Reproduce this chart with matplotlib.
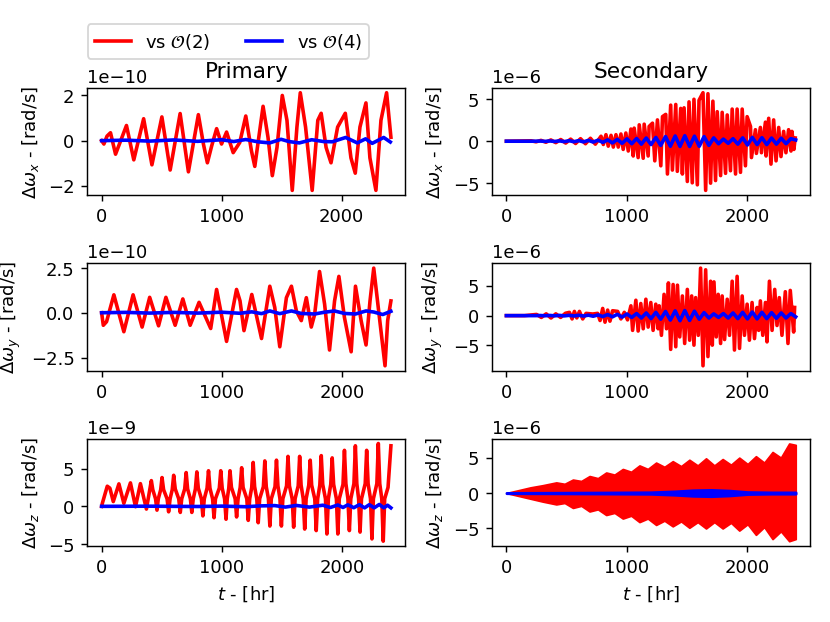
import numpy as np
import matplotlib
matplotlib.use("Agg")
import matplotlib.pyplot as plt

# ---- Primary body ----
t_px = [0, 19, 45, 74, 116, 207, 268, 350, 419, 502, 571, 654, 723, 806, 848, 881, 917, 958, 999, 1041,
        1096, 1151, 1201, 1248, 1276, 1345, 1386, 1422, 1461, 1505, 1544, 1588, 1627, 1655, 1699, 1754,
        1801, 1829, 1870, 1911, 1966, 2030, 2077, 2113, 2152, 2202, 2235, 2285, 2327, 2374, 2410]
o2_px = [0, -0.15, 0.2, 0.35, -0.6, 0.67, -0.85, 0.97, -1.07, 1.05, -1.3, 1.2, -1.38, 1.15, -0.15, -0.98,
         -0.23, 0.53, -0.15, 0.38, -0.53, -0.08, 1.09, -0.45, -1.14, 1.52, 0.15, -1.55, -0.3, 2.0, 0.9,
         -2.2, 0.6, 2.12, 0.6, -2.2, 0.9, 1.21, -0.3, -0.98, 0.6, 1.21, -0.76, -1.44, 0.6, 1.67, -0.76,
         -2.2, 0.9, 2.12, 0.15]
t4_px = [0, 200, 400, 600, 800, 1000, 1100, 1200, 1300, 1400, 1495, 1560, 1647, 1750, 1850, 1922,
         2033, 2130, 2199, 2254, 2350, 2405]
o4_px = [0, 0.02, -0.02, 0.03, -0.03, 0.04, -0.04, 0.05, -0.05, -0.1, 0.06, -0.04, -0.1, 0.04, -0.04,
         -0.05, 0.14, -0.1, 0.08, -0.12, 0.14, -0.06]

t_py = [0, 14, 41, 102, 185, 262, 337, 400, 474, 535, 612, 676, 737, 811, 908, 957, 1040, 1123, 1152,
        1185, 1250, 1331, 1400, 1441, 1483, 1538, 1580, 1621, 1662, 1704, 1745, 1773, 1814, 1856, 1897,
        1939, 1975, 2021, 2077, 2113, 2160, 2201, 2234, 2265, 2306, 2359, 2381, 2408]
o2_py = [0, -0.7, -0.5, 1.0, -1.06, 1.0, -0.8, 0.86, -0.73, 0.86, -0.7, 0.77, -0.7, 0.58, -0.88, 1.3,
         -1.6, 1.3, 0.66, -1.0, 1.02, -1.44, 1.48, 0.3, -1.9, 0.84, 1.48, 0.1, -0.44, 0.84, -0.8, -0.1,
         2.3, 0.48, -2.08, 0.66, 2.03, -0.26, -2.18, 1.48, -0.44, -1.8, 0.66, 2.49, 0.1, -2.96, -0.44, 0.66]
t4_py = [0, 200, 400, 600, 800, 1000, 1150, 1250, 1331, 1400, 1483, 1580, 1662, 1773, 1856, 1939,
         2021, 2113, 2201, 2265, 2340, 2408]
o4_py = [0, 0.02, -0.02, 0.02, -0.02, 0.03, -0.03, 0.05, -0.05, 0.1, -0.05, 0.1, -0.04, -0.07, 0.03,
         0.1, -0.04, -0.07, 0.1, 0.04, -0.1, 0.08]

# z: spikes up/down ...
t_pz = [0, 6, 47, 69, 97, 144, 185, 240, 282, 323, 373, 414, 461, 503, 558, 600, 655, 704, 751, 793,
        843, 890, 936, 992, 1036, 1069, 1124, 1166, 1221, 1262, 1304, 1359, 1401, 1456, 1497, 1552, 1599,
        1649, 1691, 1737, 1787, 1829, 1876, 1920, 1967, 2022, 2063, 2113, 2152, 2207, 2251, 2304, 2345,
        2409]
o2_pz = [0, 0.4, 2.66, 2.4, 0.63, 2.97, 0.4, 3.1, -0.05, 3.0, -0.36, 3.4, -0.5, 3.8, -0.72, 4.1, -0.8,
         4.46, -0.8, 4.55, -1.26, 4.7, -1.5, 4.7, -1.7, 4.7, -1.4, 5.1, -1.85, 5.8, -2.16, 6.0, -2.6, 6.1,
         -2.6, 6.6, -2.75, 6.6, -3.0, 6.1, -3.2, 6.7, -3.65, 6.4, -3.65, 7.4, -3.2, 8.0, -3.4, 7.4, -4.3,
         8.3, -4.6, 8.0]
# ... and the level the curve sits at between spikes
t_pz_mid = [426, 449, 472, 492, 516, 545, 570, 588, 613, 642, 667, 692, 716, 739, 763, 781, 805, 831,
            855, 878, 902, 924, 948, 980, 1004, 1024, 1046, 1059, 1081, 1112, 1136, 1154, 1178, 1209,
            1233, 1250, 1274, 1292, 1316, 1347, 1371, 1389, 1413, 1444, 1468, 1485, 1509, 1540, 1564,
            1587, 1611, 1637, 1661, 1679, 1703, 1725, 1749, 1775, 1799, 1817, 1841, 1864, 1888, 1908,
            1932, 1955, 1979, 2010, 2034, 2051, 2075, 2101, 2125, 2140, 2164, 2195, 2219, 2239, 2263,
            2292, 2316, 2333, 2357, 2385]
o2_pz_mid = [2.2, 1.0, 1.0, 2.2, 2.2, 1.0, 1.0, 2.2, 2.3, 1.0, 1.0, 2.3, 2.3, 1.0, 1.0, 2.3, 2.4, 1.0,
             1.0, 2.4, 2.4, 1.0, 1.0, 2.4, 2.4, 1.0, 1.0, 2.4, 2.5, 1.0, 1.0, 2.5, 2.5, 1.0, 1.0, 2.5,
             2.6, 1.0, 1.0, 2.6, 2.6, 1.0, 1.0, 2.6, 2.7, 1.0, 1.0, 2.7, 2.7, 1.0, 1.0, 2.7, 2.8, 1.0,
             1.0, 2.8, 2.8, 1.0, 1.0, 2.8, 2.9, 1.0, 1.0, 2.9, 2.9, 1.0, 1.0, 2.9, 3.0, 1.0, 1.0, 3.0,
             3.0, 1.0, 1.0, 3.0, 3.0, 1.0, 1.0, 3.0, 3.0, 1.0, 1.0, 2.5]
t4_pz = [0, 400, 800, 1000, 1200, 1320, 1442, 1530, 1621, 1730, 1842, 1905, 1967, 2010, 2050, 2100,
         2146, 2190, 2229, 2270, 2312, 2350, 2381, 2409]
o4_pz = [0, 0.02, -0.02, 0.03, -0.05, 0.06, 0.1, -0.1, 0.12, -0.1, 0.15, -0.15, 0.18, -0.15, 0.2,
         -0.18, 0.22, -0.2, 0.22, -0.2, 0.25, -0.2, 0.15, -0.2]

# ---- Secondary body ----
# x: spike tops and bottoms
t_sx_hi = [0, 205, 287, 369, 451, 533, 615, 697, 785, 826, 868, 909, 950, 991, 1033, 1060, 1102, 1143,
           1184, 1212, 1253, 1295, 1322, 1363, 1405, 1446, 1474, 1515, 1556, 1598, 1631, 1672, 1713,
           1749, 1790, 1832, 1873, 1914, 1956, 1997, 2025, 2066, 2107, 2149, 2176, 2217, 2259, 2300,
           2341, 2369, 2396]
o2_sx_hi = [0, 0.05, 0.1, 0.15, 0.2, 0.25, 0.3, 0.35, 0.59, 0.78, 0.7, 0.78, 0.86, 0.98, 1.45, 1.56,
            1.95, 2.03, 1.76, 2.15, 2.54, 2.93, 3.2, 4.3, 4.38, 3.91, 3.98, 4.69, 5.0, 4.88, 5.78, 5.66,
            4.77, 3.52, 3.44, 3.13, 3.83, 3.83, 3.83, 2.93, 1.76, 1.37, 1.64, 2.27, 2.73, 2.54, 1.64,
            1.17, 1.37, 1.17, 0.39]
t_sx_lo = [246, 328, 410, 492, 574, 656, 738, 804, 845, 887, 928, 969, 1011, 1052, 1093, 1135, 1176,
           1231, 1281, 1336, 1377, 1418, 1460, 1501, 1542, 1584, 1653, 1694, 1735, 1777, 1818, 1859,
           1901, 1942, 1983, 2033, 2074, 2116, 2154, 2195, 2237, 2278, 2319, 2361, 2385]
o2_sx_lo = [-0.07, -0.12, -0.17, -0.22, -0.27, -0.3, -0.35, -0.39, -0.59, -0.7, -0.7, -0.98, -1.17,
            -1.76, -1.95, -2.03, -1.76, -2.34, -2.93, -3.91, -3.44, -3.59, -3.91, -4.8, -4.96, -5.2,
            -5.86, -5.0, -4.69, -4.1, -3.83, -3.52, -3.91, -3.71, -2.93, -1.95, -1.45, -1.37, -1.76,
            -2.73, -2.34, -1.83, -1.37, -1.17, -0.98]
o4_sx = [0, 0, 0, 0, 0, 0, 0, 0.02, -0.02, 0.03, -0.03, 0.04, -0.05, 0.06, -0.06, 0.07, -0.08, 0.1,
         -0.1, 0.12, -0.14, 0.16, -0.2, 0.22, -0.25, 0.28, -0.3, 0.32, -0.35, 0.38, -0.4, 0.45, -0.5,
         0.55, -0.6, 0.62, -0.62, 0.65, -0.62, 0.6, -0.6, 0.55, -0.5, 0.4, -0.3, 0.25, -0.25, 0.3, -0.35,
         0.4, -0.45, 0.45, -0.4, 0.42, -0.4, 0.38, -0.35, 0.35, -0.3, 0.3, 0.15]

# y
t_sy_hi = [0, 150, 250, 330, 410, 490, 523, 564, 606, 661, 716, 757, 799, 840, 881, 923, 978, 1033,
           1074, 1115, 1157, 1198, 1239, 1267, 1308, 1344, 1383, 1419, 1460, 1501, 1537, 1570, 1611,
           1653, 1694, 1722, 1757, 1790, 1832, 1873, 1914, 1956, 1997, 2038, 2080, 2107, 2149, 2182,
           2226, 2264, 2314, 2355, 2391]
o2_sy_hi = [0, 0, 0.2, 0.3, 0.3, 0.4, 0.55, 0.71, 0.71, 0.38, 0.27, 0.38, 1.21, 0.93, 0.82, 0.71,
            0.55, 1.65, 2.58, 2.03, 2.75, 2.2, 1.92, 1.65, 3.57, 5.49, 5.22, 5.11, 3.3, 4.4, 3.3, 3.02,
            7.97, 7.69, 5.77, 5.66, 3.57, 3.3, 2.75, 5.77, 6.59, 3.3, 1.92, 2.2, 1.37, 2.47, 2.2, 5.77,
            4.4, 3.02, 4.01, 4.23, 1.37]
t_sy_lo = [290, 370, 450, 545, 584, 633, 777, 818, 859, 950, 1005, 1047, 1093, 1135, 1176, 1217, 1259,
           1286, 1328, 1363, 1405, 1438, 1479, 1520, 1556, 1592, 1631, 1672, 1708, 1741, 1777, 1810,
           1851, 1892, 1934, 1975, 2016, 2058, 2093, 2127, 2162, 2204, 2245, 2286, 2336, 2383]
o2_sy_lo = [-0.3, -0.4, -0.3, -0.55, -0.38, -0.55, -0.82, -1.1, -0.93, -0.55, -0.71, -2.47, -2.58,
            -2.2, -1.92, -2.47, -2.2, -3.3, -2.2, -5.66, -5.22, -3.57, -4.67, -4.12, -4.95, -3.3, -8.41,
            -6.87, -4.95, -3.57, -4.67, -4.01, -3.3, -5.77, -5.49, -3.3, -4.12, -3.85, -2.47, -3.3, -4.4,
            -2.47, -1.65, -3.3, -4.67, -2.75]
o4_sy = [0, 0, 0, 0, 0, 0, 0, 0.02, -0.02, 0.03, -0.03, 0.04, -0.04, 0.05, -0.05, 0.06, -0.07, 0.08,
         -0.1, 0.12, -0.15, 0.18, -0.2, 0.22, -0.25, 0.28, -0.3, 0.35, -0.4, 0.45, -0.5, 0.55, -0.6, 0.7,
         -0.75, 0.8, -0.85, 0.85, -0.8, 0.75, -0.6, 0.5, -0.4, 0.3, -0.3, 0.35, -0.4, 0.45, -0.5, 0.55,
         -0.55, 0.6, -0.55, 0.55, -0.5, 0.5, -0.45, 0.45, -0.4, 0.35, -0.2]
t4_sec = np.arange(0, 2401, 40)

# z: the fast oscillation fills a band, given by its envelope
t_sz = [0, 100, 200, 300, 414, 483, 552, 621, 690, 759, 828, 897, 966, 1035, 1104, 1173, 1242, 1311,
        1380, 1449, 1518, 1587, 1656, 1725, 1794, 1863, 1932, 2001, 2070, 2139, 2208, 2277, 2346, 2400]
o2_sz_hi = [0, 0.4, 0.8, 1.1, 1.5, 1.3, 1.9, 1.7, 2.4, 2.1, 2.9, 2.6, 3.4, 3.0, 3.9, 3.4, 4.3, 3.7,
            4.5, 3.8, 4.7, 3.9, 4.9, 3.9, 4.8, 4.0, 5.0, 4.1, 5.2, 4.3, 5.8, 5.0, 7.0, 6.8]
o2_sz_lo = [0, -0.4, -0.8, -1.2, -1.6, -1.4, -2.1, -1.8, -2.6, -2.3, -3.1, -2.8, -3.6, -3.2, -4.1,
            -3.6, -4.5, -3.9, -4.7, -4.0, -4.9, -4.1, -5.0, -4.1, -5.0, -4.2, -5.3, -4.4, -5.9, -4.8,
            -6.5, -5.4, -6.8, -6.5]
t4_sz = [0, 400, 800, 1200, 1400, 1550, 1700, 1850, 2000, 2200, 2400]
o4_sz_hi = [0.03, 0.05, 0.08, 0.12, 0.25, 0.4, 0.45, 0.35, 0.15, 0.1, 0.1]
o4_sz_lo = [-0.03, -0.05, -0.08, -0.12, -0.25, -0.4, -0.45, -0.35, -0.15, -0.1, -0.1]


def merged(t_a, v_a, t_b, v_b):
    t = np.concatenate([t_a, t_b])
    v = np.concatenate([v_a, v_b])
    k = np.argsort(t, kind="stable")
    return t[k], v[k]


fig, axs = plt.subplots(3, 2, figsize=(6.4, 4.8))
fig.subplots_adjust(left=0.105, right=0.976, top=0.858, bottom=0.122,
                    wspace=0.272, hspace=0.633)
lw = 2

ax = axs[0, 0]
l2, = ax.plot(t_px, np.array(o2_px) * 1e-10, color='red', lw=lw, label=r'vs $\mathcal{O}(2)$')
l4, = ax.plot(t4_px, np.array(o4_px) * 1e-10, color='blue', lw=lw, label=r'vs $\mathcal{O}(4)$')
ax.set_title('Primary')

ax = axs[1, 0]
ax.plot(t_py, np.array(o2_py) * 1e-10, color='red', lw=lw)
ax.plot(t4_py, np.array(o4_py) * 1e-10, color='blue', lw=lw)

ax = axs[2, 0]
t, v = merged(t_pz, o2_pz, t_pz_mid, o2_pz_mid)
ax.plot(t, v * 1e-9, color='red', lw=lw)
ax.plot(t4_pz, np.array(o4_pz) * 1e-9, color='blue', lw=lw)

ax = axs[0, 1]
t, v = merged(t_sx_hi, o2_sx_hi, t_sx_lo, o2_sx_lo)
ax.plot(t, v * 1e-6, color='red', lw=lw)
ax.plot(t4_sec, np.array(o4_sx) * 1e-6, color='blue', lw=lw)
ax.set_title('Secondary')

ax = axs[1, 1]
t, v = merged(t_sy_hi, o2_sy_hi, t_sy_lo, o2_sy_lo)
ax.plot(t, v * 1e-6, color='red', lw=lw)
ax.plot(t4_sec, np.array(o4_sy) * 1e-6, color='blue', lw=lw)

ax = axs[2, 1]
ax.fill_between(t_sz, np.array(o2_sz_lo) * 1e-6, np.array(o2_sz_hi) * 1e-6,
                color='red', lw=1)
ax.fill_between(t4_sz, np.array(o4_sz_lo) * 1e-6, np.array(o4_sz_hi) * 1e-6,
                color='blue', lw=1.5)

comps = ['x', 'y', 'z']
for i in range(3):
    for j in range(2):
        axs[i, j].set_ylabel(r'$\Delta\omega_%s$ - [rad/s]' % comps[i])
for j in range(2):
    axs[2, j].set_xlabel(r'$t$ - [hr]')

fig.legend(handles=[l2, l4], loc='lower left', ncol=2,
           bbox_to_anchor=(0.1057, 0.9048), borderaxespad=0)

fig.savefig("out.png", dpi=129.7)
